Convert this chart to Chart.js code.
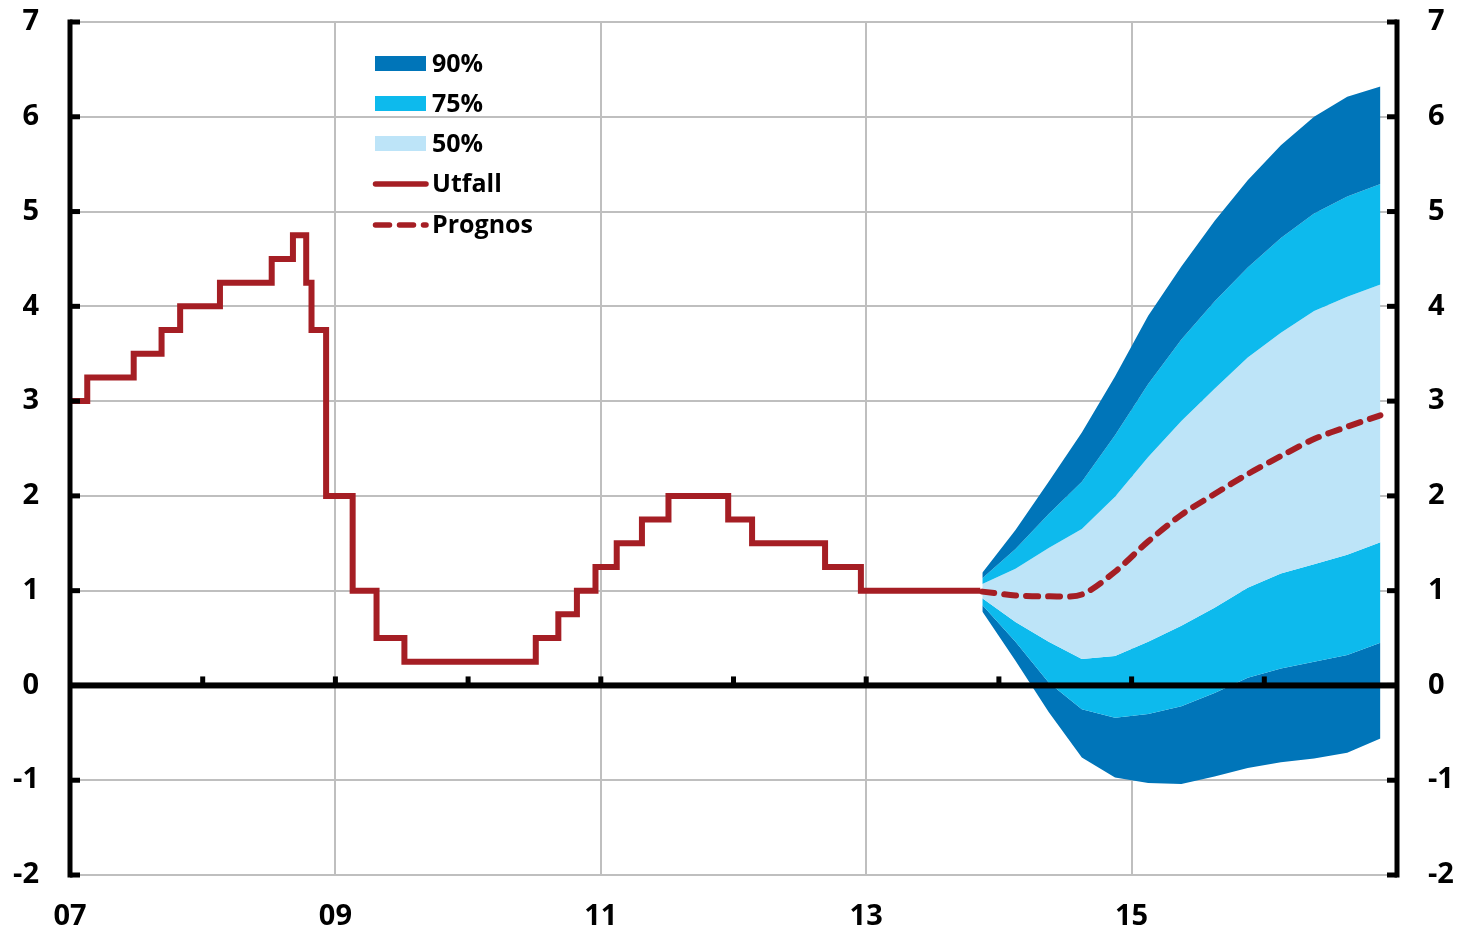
<!DOCTYPE html>
<html>
<head>
<meta charset="utf-8">
<script src="https://cdn.jsdelivr.net/npm/chart.js@4.4.1/dist/chart.umd.min.js"></script>
<style>
html, body { margin: 0; padding: 0; background: #fff; }
</style>
</head>
<body>
<canvas id="myChart" width="1462" height="928"></canvas>
<script>
// repo rate outcome (date of change, new level)
var rateDates  = [2007.00, 2007.13, 2007.48, 2007.69, 2007.83, 2008.13, 2008.52, 2008.68, 2008.78, 2008.82,
                  2008.93, 2009.13, 2009.31, 2009.52, 2010.51, 2010.68, 2010.82, 2010.96, 2011.12, 2011.31,
                  2011.51, 2011.96, 2012.14, 2012.69, 2012.96, 2013.86];
var rateValues = [3.00, 3.25, 3.50, 3.75, 4.00, 4.25, 4.50, 4.75, 4.25, 3.75,
                  2.00, 1.00, 0.50, 0.25, 0.50, 0.75, 1.00, 1.25, 1.50, 1.75,
                  2.00, 1.75, 1.50, 1.25, 1.00, 1.00];

// forecast, quarterly
var fanDates  = [2013.875, 2014.125, 2014.375, 2014.625, 2014.875, 2015.125, 2015.375,
                 2015.625, 2015.875, 2016.125, 2016.375, 2016.625, 2016.875];
var prognos   = [0.99, 0.95, 0.94, 0.96, 1.20, 1.52, 1.80, 2.02, 2.23, 2.42, 2.60, 2.73, 2.85];
var upper90   = [1.19, 1.64, 2.15, 2.67, 3.26, 3.90, 4.42, 4.90, 5.33, 5.70, 6.00, 6.21, 6.32];
var upper75   = [1.13, 1.44, 1.81, 2.15, 2.64, 3.18, 3.65, 4.05, 4.41, 4.72, 4.98, 5.16, 5.29];
var upper50   = [1.07, 1.23, 1.45, 1.65, 1.99, 2.41, 2.79, 3.13, 3.46, 3.72, 3.95, 4.10, 4.23];
var lower50   = [0.92, 0.67, 0.46, 0.28, 0.31, 0.46, 0.63, 0.82, 1.03, 1.18, 1.28, 1.38, 1.51];
var lower75   = [0.85, 0.46, 0.03, -0.25, -0.34, -0.30, -0.22, -0.08, 0.08, 0.18, 0.25, 0.32, 0.45];
var lower90   = [0.78, 0.26, -0.28, -0.76, -0.97, -1.03, -1.04, -0.96, -0.87, -0.81, -0.77, -0.71, -0.56];

var xTickYears  = [2007, 2009, 2011, 2013, 2015];
var xTickLabels = ['07', '09', '11', '13', '15'];
var minorYears  = [2008, 2009, 2010, 2011, 2012, 2013, 2014, 2015, 2016];
var yTicks      = [-2, -1, 0, 1, 2, 3, 4, 5, 6, 7];

var dark  = '#0075b9';
var cyan  = '#0dbaed';
var light = '#bde4f8';
var red   = '#a51e24';
var FONT  = '"Open Sans", "Noto Sans", sans-serif';

function pts(xs, ys) {
    return xs.map(function (x, i) { return { x: x, y: ys[i] }; });
}

function band(label, data, color, fill) {
    return {
        label: label,
        data: pts(fanDates, data),
        borderWidth: 0,
        borderColor: 'transparent',
        backgroundColor: color,
        pointRadius: 0,
        fill: fill,
        order: 2
    };
}

var legendItems = [
    { label: '90%', type: 'box', color: dark },
    { label: '75%', type: 'box', color: cyan },
    { label: '50%', type: 'box', color: light },
    { label: 'Utfall', type: 'line', color: red },
    { label: 'Prognos', type: 'dash', color: red }
];

var decorations = {
    id: 'decorations',
    afterDatasetsDraw: function (chart) {
        var c = chart.ctx, a = chart.chartArea;
        var x = chart.scales.x, y = chart.scales.y;
        var y0 = y.getPixelForValue(0);
        c.save();
        c.fillStyle = '#000';
        c.fillRect(a.left, y0 - 3, a.right - a.left, 6);
        minorYears.forEach(function (yr) {
            var px = x.getPixelForValue(yr);
            c.fillRect(px - 2.5, y0 - 9, 5, 9);
        });
        c.restore();
    },
    afterDraw: function (chart) {
        var c = chart.ctx, a = chart.chartArea, y = chart.scales.y;
        c.save();
        c.fillStyle = '#000';
        // left and right axis lines with inward ticks
        c.fillRect(a.left - 2.5, a.top - 2.5, 5, a.bottom - a.top + 5);
        c.fillRect(a.right - 2.5, a.top - 2.5, 5, a.bottom - a.top + 5);
        yTicks.forEach(function (v) {
            var py = y.getPixelForValue(v);
            c.fillRect(a.left, py - 2.5, 10, 5);
            c.fillRect(a.right - 10, py - 2.5, 10, 5);
        });

        // legend
        var lx = 375, lw = 51, tx = 432;
        var rows = [63.5, 103.5, 143.5, 184, 225];
        c.font = 'bold 25px ' + FONT;
        c.textBaseline = 'middle';
        c.textAlign = 'left';
        legendItems.forEach(function (it, i) {
            var ry = rows[i];
            if (it.type === 'box') {
                c.fillStyle = it.color;
                c.fillRect(lx, ry - 7.5, lw, 15);
            } else {
                c.strokeStyle = it.color;
                c.lineWidth = 5.5;
                c.lineCap = 'round';
                c.setLineDash(it.type === 'dash' ? [14, 10] : []);
                c.beginPath();
                c.moveTo(lx + 0.5, ry);
                c.lineTo(lx + lw, ry);
                c.stroke();
                c.setLineDash([]);
            }
            c.fillStyle = '#000';
            c.fillText(it.label, tx, ry + 1);
        });
        c.restore();
    }
};

var ctx = document.getElementById('myChart').getContext('2d');
var myChart = new Chart(ctx, {
    type: 'line',
    data: {
        datasets: [
            {
                label: 'Utfall',
                data: pts(rateDates, rateValues),
                stepped: 'before',
                borderColor: red,
                borderWidth: 6,
                borderJoinStyle: 'miter',
                pointRadius: 0,
                fill: false,
                order: 0
            },
            {
                label: 'Prognos',
                data: pts(fanDates, prognos),
                borderColor: red,
                borderWidth: 6,
                borderDash: [12, 10],
                borderCapStyle: 'round',
                tension: 0.3,
                pointRadius: 0,
                fill: false,
                order: 0
            },
            band('90% upp', upper90, dark, '+1'),
            band('75% upp', upper75, cyan, '+1'),
            band('50% upp', upper50, light, '+1'),
            band('50% ned', lower50, cyan, '+1'),
            band('75% ned', lower75, dark, '+1'),
            band('90% ned', lower90, dark, false)
        ]
    },
    options: {
        responsive: false,
        animation: false,
        devicePixelRatio: 1,
        layout: { padding: { top: 22, left: 0, right: 0, bottom: 0 } },
        plugins: {
            legend: { display: false },
            tooltip: { enabled: false }
        },
        scales: {
            x: {
                type: 'linear',
                min: 2007,
                max: 2017,
                afterBuildTicks: function (s) {
                    s.ticks = xTickYears.map(function (v) { return { value: v }; });
                },
                afterFit: function (s) {
                    s.height = 53;
                    s.paddingLeft = 0;
                    s.paddingRight = 0;
                },
                border: { display: false },
                grid: { color: '#bfbfbf', lineWidth: 2, drawTicks: false },
                ticks: {
                    autoSkip: false,
                    maxRotation: 0,
                    padding: 24,
                    color: '#000',
                    font: { family: FONT, size: 29, weight: 'bold' },
                    callback: function (v) {
                        var i = xTickYears.indexOf(v);
                        return i >= 0 ? xTickLabels[i] : '';
                    }
                }
            },
            y: {
                position: 'left',
                min: -2,
                max: 7,
                afterFit: function (s) {
                    s.width = 70;
                    s.paddingTop = 0;
                    s.paddingBottom = 0;
                },
                border: { display: false },
                grid: { color: '#bfbfbf', lineWidth: 2, drawTicks: false },
                ticks: {
                    stepSize: 1,
                    padding: 31,
                    color: '#000',
                    font: { family: FONT, size: 29, weight: 'bold' }
                }
            },
            y2: {
                position: 'right',
                min: -2,
                max: 7,
                afterFit: function (s) {
                    s.width = 65;
                    s.paddingTop = 0;
                    s.paddingBottom = 0;
                },
                border: { display: false },
                grid: { display: false, drawTicks: false },
                ticks: {
                    stepSize: 1,
                    padding: 31,
                    color: '#000',
                    font: { family: FONT, size: 29, weight: 'bold' }
                }
            }
        }
    },
    plugins: [decorations]
});
</script>
</body>
</html>
